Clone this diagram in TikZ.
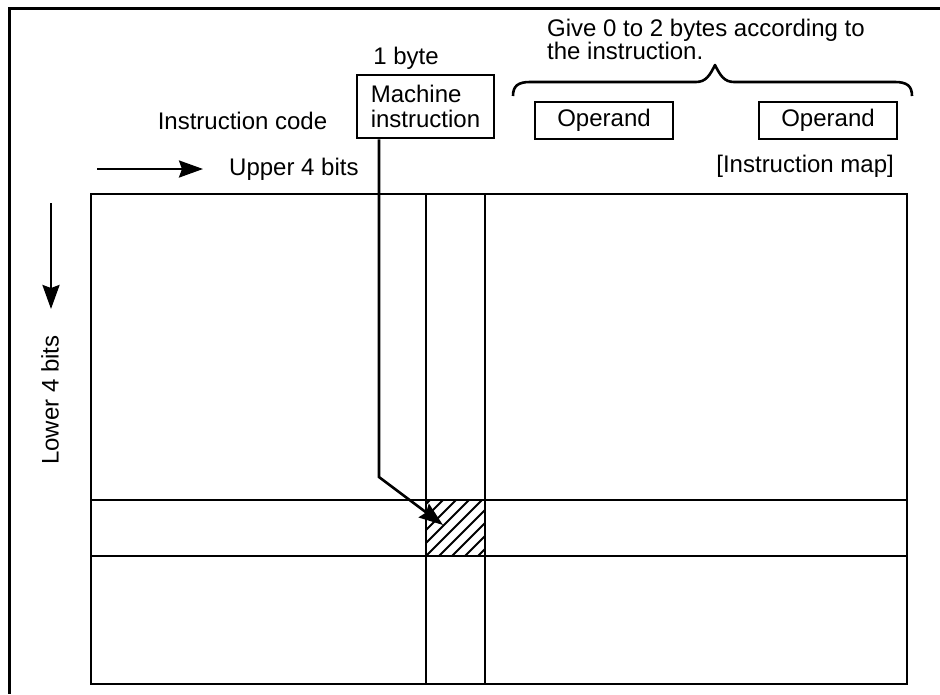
\documentclass[tikz,border=0pt]{standalone}
\usepackage{fontspec}
\setmainfont{Liberation Sans}
\usetikzlibrary{arrows.meta}
\begin{document}
\begin{tikzpicture}[x=1pt,y=-1pt,
  every node/.style={font=\fontsize{24}{24.5}\selectfont, inner sep=0pt},
  ln/.style={line width=2.6pt},
  boxnode/.style={draw, line width=2.6pt},
  bigarrow/.style={line width=2.6pt, -{Stealth[length=24pt,width=17pt,inset=3pt]}}]
\useasboundingbox (0,0) rectangle (940,694);
% frame
\draw[line width=3pt] (940,8) -- (9,8) -- (9,694);
% grid
\draw[ln] (91,194) rectangle (907,684);
\draw[ln] (426,194) rectangle (485,684);
\draw[ln] (91,500) rectangle (907,556);
\node (cell) [minimum width=59pt, minimum height=56pt] at (455.5,528) {};
\begin{scope}
  \clip (426,500) rectangle (485,556);
  \foreach \k in {-65,-52,...,65} \draw[line width=2pt] (426+\k,556) -- ++(70,-70);
\end{scope}
\draw[ln] (426,500) rectangle (485,556);
% texts
\node (onebyte) at (406,58) {1 byte};
\node (mi) [boxnode, minimum width=137pt, minimum height=63pt, align=left] at (425.5,106.5) {Machine\\instruction};
\node (op1) [boxnode, minimum width=138pt, minimum height=37pt] at (604,120.5) {Operand};
\node (op2) [boxnode, minimum width=138pt, minimum height=37pt] at (828,120.5) {Operand};
\node (give) [anchor=north west, align=left, font=\fontsize{24}{22.5}\selectfont] at (547,19) {Give 0 to 2 bytes according to\\the instruction.};
\node (code) at (242.5,121) {Instruction code};
\node (upper) [anchor=west] at (229,169) {Upper 4 bits};
\node (map) [anchor=east] at (894,166) {[Instruction map]};
\node (lower) [rotate=90] at (50,400) {Lower 4 bits};
% arrows
\coordinate (ua1) at (97,169);
\coordinate (ua2) at (203,169);
\draw[bigarrow] (ua1) -- (ua2);
\coordinate (la1) at (51,203);
\coordinate (la2) at (51,309);
\draw[bigarrow] (la1) -- (la2);
\coordinate (bend) at (379,477);
\coordinate (tip) at (443,525);
\draw[bigarrow] (mi.south west -| bend) -- (bend) -- (tip);
% brace
\coordinate (bl) at (513,96);
\coordinate (br) at (912,96);
\coordinate (bt) at (715,65);
\draw[line width=2.6pt, line join=round]
  (bl) .. controls (513,86) and (518,82) .. (530,82)
  -- (696,82) .. controls (706,82) and (710,75) .. (bt)
  .. controls (720,75) and (724,82) .. (734,82)
  -- (895,82) .. controls (907,82) and (912,86) .. (br);
\end{tikzpicture}
\end{document}
